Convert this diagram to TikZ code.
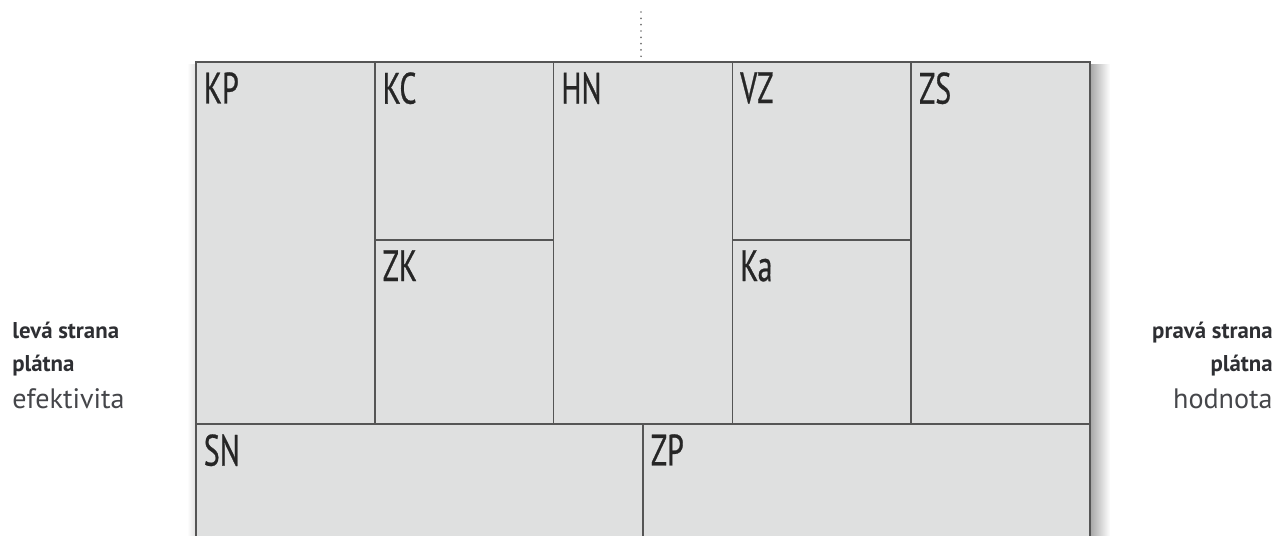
\documentclass[tikz,border=0pt]{standalone}
\usepackage{fontspec}
\setmainfont{PT Sans}
\newfontfamily\labfont[FakeStretch=0.68,FakeBold=0.6]{PT Sans}
\usetikzlibrary{positioning,calc}

\definecolor{canvasfill}{HTML}{DFE0E0}
\definecolor{canvasline}{HTML}{555555}
\definecolor{sidetext}{HTML}{2E2F33}
\definecolor{sidelight}{HTML}{45464A}

\tikzset{
  block/.style args={#1 by #2}{draw=canvasline, fill=canvasfill, line width=1pt,
    minimum width=#1*0.02cm, minimum height=#2*0.02cm, inner sep=0pt, outer sep=0pt,
    anchor=north west},
  lab/.style={font=\labfont\fontsize{25}{30}\selectfont, text=black!85, inner sep=0pt,
    anchor=north west, xshift=0.15cm, yshift=-0.2cm},
  sidebold/.style={font=\fontsize{13}{16}\selectfont\bfseries, text=sidetext, inner sep=0pt},
  sidelite/.style={font=\fontsize{16}{19}\selectfont, text=sidelight, inner sep=0pt}
}

\begin{document}
\begin{tikzpicture}[x=0.02cm, y=-0.02cm]
\useasboundingbox (0,0) rectangle (1285,535);
\clip (0,0) rectangle (1285,535);
% soft shadow round the canvas
\shade[left color=black!35, right color=white] (1090,64) rectangle (1110,535);
\shade[left color=white, right color=black!12] (187,64) rectangle (196,535);
% dotted centre line
\coordinate (top) at (641,12);
% upper part of the canvas
\node[block=178.8 by 362] (KP) at (196,62) {};
\node[block=178.8 by 178, anchor=north west] (KC) at (KP.north east) {};
\node[block=178.8 by 184, anchor=north west] (ZK) at (KC.south west) {};
\node[block=178.8 by 362, anchor=north west] (HN) at (KC.north east) {};
\node[block=178.8 by 178, anchor=north west] (VZ) at (HN.north east) {};
\node[block=178.8 by 184, anchor=north west] (Ka) at (VZ.south west) {};
\node[block=178.8 by 362, anchor=north west] (ZS) at (VZ.north east) {};
% lower part
\node[block=447 by 140, anchor=north west] (SN) at (KP.south west) {};
\node[block=447 by 140, anchor=north west] (ZP) at (SN.north east) {};
\draw[black!55, line width=1.1pt, line cap=round, dash pattern=on 0pt off 3.6pt]
  (top) -- (HN.north -| top);
% labels
\foreach \n in {KP,KC,ZK,HN,VZ,Ka,ZS,SN,ZP}
  \node[lab] (l\n) at (\n.north west) {\n};
% side texts
\node[sidebold, anchor=base west] (left1) at (12,338) {levá strana};
\node[sidebold, anchor=base west] (left2) at (12,371) {plátna};
\node[sidelite, anchor=base west] (left3) at (12,408) {efektivita};
\node[sidebold, anchor=base east] (right1) at (1273,338) {pravá strana};
\node[sidebold, anchor=base east] (right2) at (1273,371) {plátna};
\node[sidelite, anchor=base east] (right3) at (1273,408) {hodnota};
\end{tikzpicture}
\end{document}
